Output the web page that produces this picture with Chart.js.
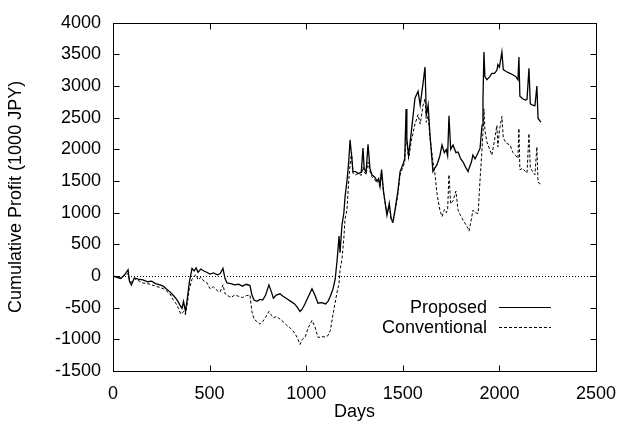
<!doctype html>
<html lang="en">
<head>
<meta charset="utf-8">
<title>Cumulative Profit</title>
<script src="https://cdn.jsdelivr.net/npm/chart.js@4.4.1/dist/chart.umd.min.js"></script>
<style>
  html, body { margin: 0; padding: 0; background: #fff; }
  #wrap { width: 632px; height: 430px; }
</style>
</head>
<body>
<div id="wrap"><canvas id="c" width="632" height="430"></canvas></div>
<script>
// data (days, cumulative profit in 1000 JPY)
var days = [0, 20, 40, 60, 78, 85, 95, 110, 130, 155, 180, 200, 220, 243, 260, 275, 295, 310, 325, 340,
  350, 357, 365, 375, 385, 395, 409, 420, 430, 440, 455, 470, 485, 502, 520, 540, 555, 569, 580, 590,
  610, 630, 650, 670, 690, 709, 719, 730, 745, 761, 775, 790, 807, 820, 830, 845, 864, 880, 900, 920,
  940, 955, 968, 980, 995, 1010, 1030, 1045, 1061, 1080, 1100, 1113, 1125, 1139, 1150, 1160, 1170, 1175, 1185, 1195,
  1201, 1211, 1220, 1227, 1235, 1242, 1255, 1270, 1285, 1294, 1300, 1310, 1320, 1330, 1340, 1355, 1366, 1375, 1382, 1390,
  1400, 1418, 1430, 1440, 1449, 1460, 1475, 1486, 1500, 1510, 1517, 1521, 1530, 1545, 1563, 1579, 1590, 1605, 1615, 1622,
  1631, 1641, 1656, 1665, 1677, 1692, 1703, 1715, 1725, 1732, 1739, 1748, 1760, 1775, 1786, 1800, 1812, 1825, 1838, 1843,
  1855, 1863, 1874, 1890, 1900, 1910, 1915, 1920, 1925, 1935, 1950, 1961, 1975, 1987, 1992, 2000, 2013, 2020, 2035, 2055,
  2070, 2085, 2096, 2101, 2106, 2120, 2135, 2143, 2153, 2160, 2172, 2184, 2194, 2200, 2215];

var proposed = [0, -20, -40, 20, 100, -80, -140, -30, -50, -60, -90, -80, -120, -140, -160, -200, -250, -300, -350, -420,
  -480, -510, -400, -560, -350, -100, 120, 80, 130, 60, 110, 80, 60, 30, 50, 20, 40, 120, -40, -110,
  -120, -140, -130, -160, -130, -150, -300, -380, -400, -370, -380, -300, -140, -250, -350, -300, -280, -320, -360, -400,
  -440, -500, -560, -520, -430, -330, -200, -300, -430, -420, -440, -400, -320, -200, -50, 250, 630, 370, 800, 1000,
  1250, 1500, 1800, 2150, 1900, 1650, 1650, 1620, 1640, 2020, 1700, 1640, 2080, 1700, 1600, 1560, 1500, 1540, 1420, 1680,
  1340, 960, 1150, 900, 860, 1050, 1350, 1650, 1760, 1850, 2640, 2170, 1900, 2300, 2810, 2920, 2700, 3050, 3300, 2530,
  2700, 2220, 1650, 1700, 1760, 1900, 2070, 1950, 2000, 1900, 2530, 2000, 2070, 1950, 1960, 1850, 1800, 1720, 1650, 1700,
  1800, 1910, 1850, 1950, 2020, 2380, 2800, 3540, 3150, 3100, 3150, 3200, 3200, 3250, 3340, 3300, 3540, 3260, 3230, 3200,
  3180, 3150, 3100, 3460, 2840, 2800, 2780, 2790, 3280, 2720, 2700, 2690, 3000, 2490, 2430];

var conventional = [0, -10, -30, 10, 40, -60, -100, -40, -70, -110, -120, -140, -160, -180, -200, -230, -280, -370, -430, -520,
  -600, -590, -560, -610, -420, -200, -50, 0, 20, -60, -20, -80, -100, -200, -170, -230, -250, -140, -280, -300,
  -340, -300, -320, -340, -310, -300, -560, -680, -720, -760, -720, -650, -560, -620, -660, -640, -680, -720, -780, -830,
  -900, -980, -1080, -1000, -960, -820, -700, -800, -970, -960, -960, -940, -860, -600, -420, -250, -120, 100, 260, 600,
  900, 1040, 1500, 1760, 1950, 1620, 1600, 1620, 1590, 1720, 1650, 1600, 1800, 1650, 1570, 1520, 1470, 1500, 1400, 1650,
  1320, 980, 1100, 880, 840, 1020, 1300, 1600, 1720, 1800, 2200, 2100, 1850, 2150, 2400, 2550, 2400, 2700, 2800, 2430,
  2530, 2180, 1810, 1650, 1300, 1040, 940, 1050, 1000, 1050, 1600, 1140, 1190, 1340, 1040, 950, 880, 820, 750, 710,
  900, 1040, 1000, 990, 1530, 2000, 2270, 2640, 2300, 2120, 2000, 1910, 2150, 2380, 2040, 2300, 2520, 2180, 2100, 2070,
  1950, 1900, 1860, 2330, 1680, 1700, 1650, 1630, 2250, 1710, 1650, 1600, 2040, 1480, 1450];

var seriesNames = ["Proposed", "Conventional"];
var xMin = 0, xMax = 2500, xStep = 500;
var yMin = -1500, yMax = 4000, yStep = 500;

function toPoints(xs, ys) {
  var pts = [];
  for (var i = 0; i < xs.length; i++) pts.push({ x: xs[i], y: ys[i] });
  return pts;
}

var FONT = "'Liberation Sans', Arial, Helvetica, sans-serif";

// gnuplot style frame: box, inward ticks on all four sides, dotted zero line, legend inside
var framePlugin = {
  id: 'frame',
  beforeDatasetsDraw: function (chart) {
    var ctx = chart.ctx, a = chart.chartArea;
    var ys = chart.scales.y;
    ctx.save();
    var y0 = Math.round(ys.getPixelForValue(0)) + 0.5;
    ctx.strokeStyle = '#000';
    ctx.lineWidth = 1;
    ctx.setLineDash([1, 2]);
    ctx.beginPath();
    ctx.moveTo(a.left, y0);
    ctx.lineTo(a.right, y0);
    ctx.stroke();
    ctx.restore();
  },
  afterDatasetsDraw: function (chart) {
    var ctx = chart.ctx, a = chart.chartArea;
    var xs = chart.scales.x, ys = chart.scales.y;
    var L = Math.round(a.left) + 0.5, R = Math.round(a.right) + 0.5;
    var T = Math.round(a.top) + 0.5, B = Math.round(a.bottom) + 0.5;
    var tl = 6;
    ctx.save();
    ctx.strokeStyle = '#000';
    ctx.lineWidth = 1;
    ctx.setLineDash([]);
    ctx.strokeRect(L, T, R - L, B - T);
    ctx.beginPath();
    xs.ticks.forEach(function (t) {
      var px = Math.round(xs.getPixelForValue(t.value)) + 0.5;
      ctx.moveTo(px, B); ctx.lineTo(px, B - tl);
      ctx.moveTo(px, T); ctx.lineTo(px, T + tl);
    });
    ys.ticks.forEach(function (t) {
      var py = Math.round(ys.getPixelForValue(t.value)) + 0.5;
      ctx.moveTo(L, py); ctx.lineTo(L + tl, py);
      ctx.moveTo(R, py); ctx.lineTo(R - tl, py);
    });
    ctx.stroke();

    // legend
    ctx.font = '18px ' + FONT;
    ctx.fillStyle = '#000';
    ctx.textAlign = 'right';
    ctx.textBaseline = 'middle';
    var lx = 487, rowY = [307, 327];
    chart.data.datasets.forEach(function (ds, i) {
      ctx.fillText(ds.label, lx, rowY[i] + 1);
      ctx.setLineDash(ds.borderDash || []);
      ctx.beginPath();
      ctx.moveTo(499, rowY[i] + 0.5);
      ctx.lineTo(551, rowY[i] + 0.5);
      ctx.stroke();
    });
    ctx.restore();
  }
};

function plainTick(v) { return String(v); }

new Chart(document.getElementById('c').getContext('2d'), {
  type: 'line',
  data: {
    datasets: [
      {
        label: seriesNames[0],
        data: toPoints(days, proposed),
        borderColor: '#000',
        borderWidth: 1.3,
        pointRadius: 0,
        tension: 0,
        fill: false
      },
      {
        label: seriesNames[1],
        data: toPoints(days, conventional),
        borderColor: '#000',
        borderWidth: 1,
        borderDash: [3, 2],
        pointRadius: 0,
        tension: 0,
        fill: false
      }
    ]
  },
  plugins: [framePlugin],
  options: {
    responsive: false,
    animation: false,
    devicePixelRatio: 1,
    layout: { padding: { top: 15, right: 36, left: 5, bottom: 7 } },
    plugins: {
      legend: { display: false },
      tooltip: { enabled: false }
    },
    scales: {
      x: {
        type: 'linear',
        min: xMin, max: xMax,
        afterFit: function (s) { s.height = 52; },
        ticks: { stepSize: xStep, callback: plainTick, color: '#000', font: { family: FONT, size: 18 }, padding: 12, maxRotation: 0 },
        grid: { display: false, drawTicks: false },
        border: { display: false },
        title: { display: true, text: 'Days', color: '#000', font: { family: FONT, size: 18 }, padding: { top: 0, bottom: 0 } }
      },
      y: {
        type: 'linear',
        min: yMin, max: yMax,
        afterFit: function (s) { s.width = 108; },
        ticks: { stepSize: yStep, callback: plainTick, color: '#000', font: { family: FONT, size: 18 }, padding: 12 },
        grid: { display: false, drawTicks: false },
        border: { display: false },
        title: { display: true, text: 'Cumulative Profit (1000 JPY)', color: '#000', font: { family: FONT, size: 18 }, padding: { top: 0, bottom: 0 } }
      }
    }
  }
});
</script>
</body>
</html>
